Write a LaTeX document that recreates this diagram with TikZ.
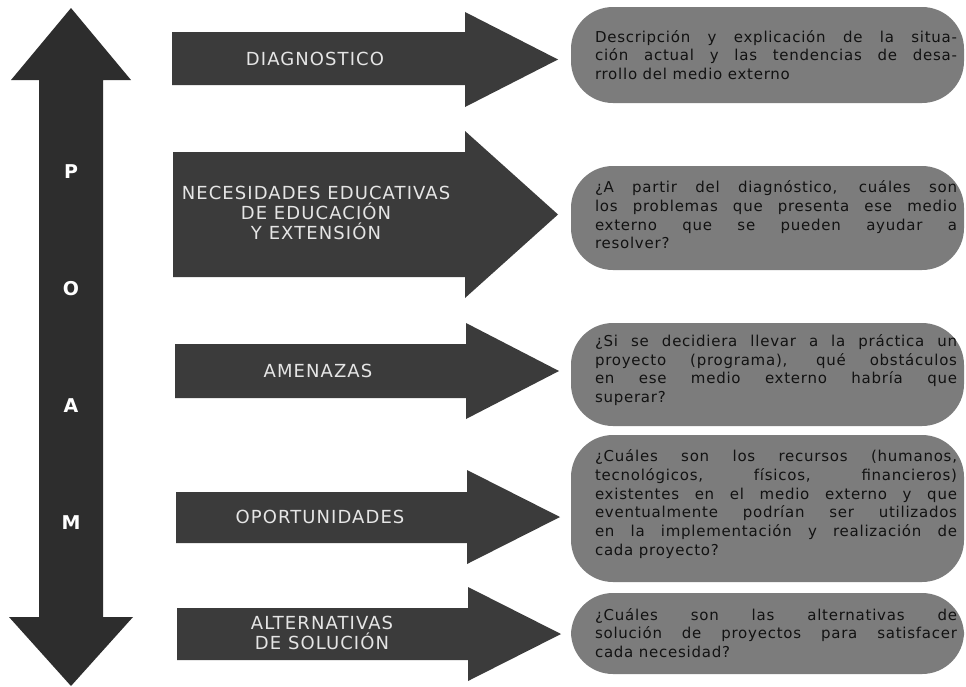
\documentclass[tikz,border=0pt]{standalone}
\usepackage{fontspec}
\setmainfont{DejaVu Sans}
\newfontfamily\tagfont[LetterSpace=6]{DejaVu Sans}
\newfontfamily\boxfont[LetterSpace=5]{DejaVu Sans}
\usepackage{xcolor}
\usepackage{tikz}

\tolerance=10000
\hbadness=10000

\definecolor{arrowgray}{HTML}{3B3B3B}
\definecolor{poamgray}{HTML}{2D2D2D}
\definecolor{boxgray}{HTML}{7C7C7C}
\definecolor{boxink}{HTML}{121212}

\tikzset{
  arrowfill/.style={fill=arrowgray},
  poamfill/.style={fill=poamgray},
  boxfill/.style={fill=boxgray, rounded corners=42pt},
  tag/.style={text=white!90!black, font=\tagfont\fontsize{18}{20}\selectfont, align=center, inner sep=0pt},
  letter/.style={text=white, font=\fontsize{19}{19}\selectfont\bfseries, inner sep=0pt},
  boxtext/.style={inner sep=0pt, text=boxink, font=\boxfont\fontsize{15}{18.7}\selectfont, align=justify, text width=362pt}
}

\begin{document}
\begin{tikzpicture}[x=1pt,y=-1pt]
\path[fill=white] (0,0) rectangle (966,686);

\fill[poamfill] (71,8)--(131,80)--(103,80)--(103,617)--(133,617)--(71,686)--(9,617)--(39,617)--(39,80)--(11,80)--cycle;
\node[letter] (p) at (71,172) {P};
\node[letter] (o) at (71,289) {O};
\node[letter] (a) at (71,406) {A};
\node[letter] (m) at (71,523) {M};

\fill[arrowfill] (172,32)--(465,32)--(465,12)--(558,59.5)--(465,107)--(465,85)--(172,85)--cycle;
\fill[arrowfill] (173,152)--(465,152)--(465,131)--(558,214.5)--(465,298)--(465,277)--(173,277)--cycle;
\fill[arrowfill] (175,344)--(466,344)--(466,323)--(559,371)--(466,419)--(466,398)--(175,398)--cycle;
\fill[arrowfill] (176,492)--(467,492)--(467,470)--(560,517)--(467,564)--(467,543)--(176,543)--cycle;
\fill[arrowfill] (177,608)--(468,608)--(468,587)--(561,634)--(468,681)--(468,660)--(177,660)--cycle;

\node[tag] (diag) at (315,59) {DIAGNOSTICO};
\node[tag] (necesidades) at (316,213) {NECESIDADES EDUCATIVAS\\DE EDUCACIÓN\\Y EXTENSIÓN};
\node[tag] (amenazas) at (318,371) {AMENAZAS};
\node[tag] (oportunidades) at (320,517) {OPORTUNIDADES};
\node[tag] (alternativas) at (322,633) {ALTERNATIVAS\\DE SOLUCIÓN};

\fill[boxfill] (571,7) rectangle (964,103);
\fill[boxfill] (571,166) rectangle (964,270);
\fill[boxfill] (571,323) rectangle (964,426);
\fill[boxfill] (571,435) rectangle (964,582);
\fill[boxfill] (571,593) rectangle (964,674);

\node[boxtext] (diagtext) at (776,55)
  {Descripción y explicación de la situa-\linebreak ción actual y las tendencias de desa-\linebreak rrollo del medio externo};
\node[boxtext] (nectext) at (776,215)
  {¿A partir del diagnóstico, cuáles son\linebreak los problemas que presenta ese medio\linebreak externo que se pueden ayudar a\linebreak resolver?};
\node[boxtext] (amentext) at (776,370)
  {¿Si se decidiera llevar a la práctica un\linebreak proyecto (programa), qué obstáculos\linebreak en ese medio externo habría que\linebreak superar?};
\node[boxtext] (oportext) at (776,504)
  {¿Cuáles son los recursos (humanos,\linebreak tecnológicos, físicos, financieros)\linebreak existentes en el medio externo y que\linebreak eventualmente podrían ser utilizados\linebreak en la implementación y realización de\linebreak cada proyecto?};
\node[boxtext] (alttext) at (776,633)
  {¿Cuáles son las alternativas de\linebreak solución de proyectos para satisfacer\linebreak cada necesidad?};

\end{tikzpicture}
\end{document}
